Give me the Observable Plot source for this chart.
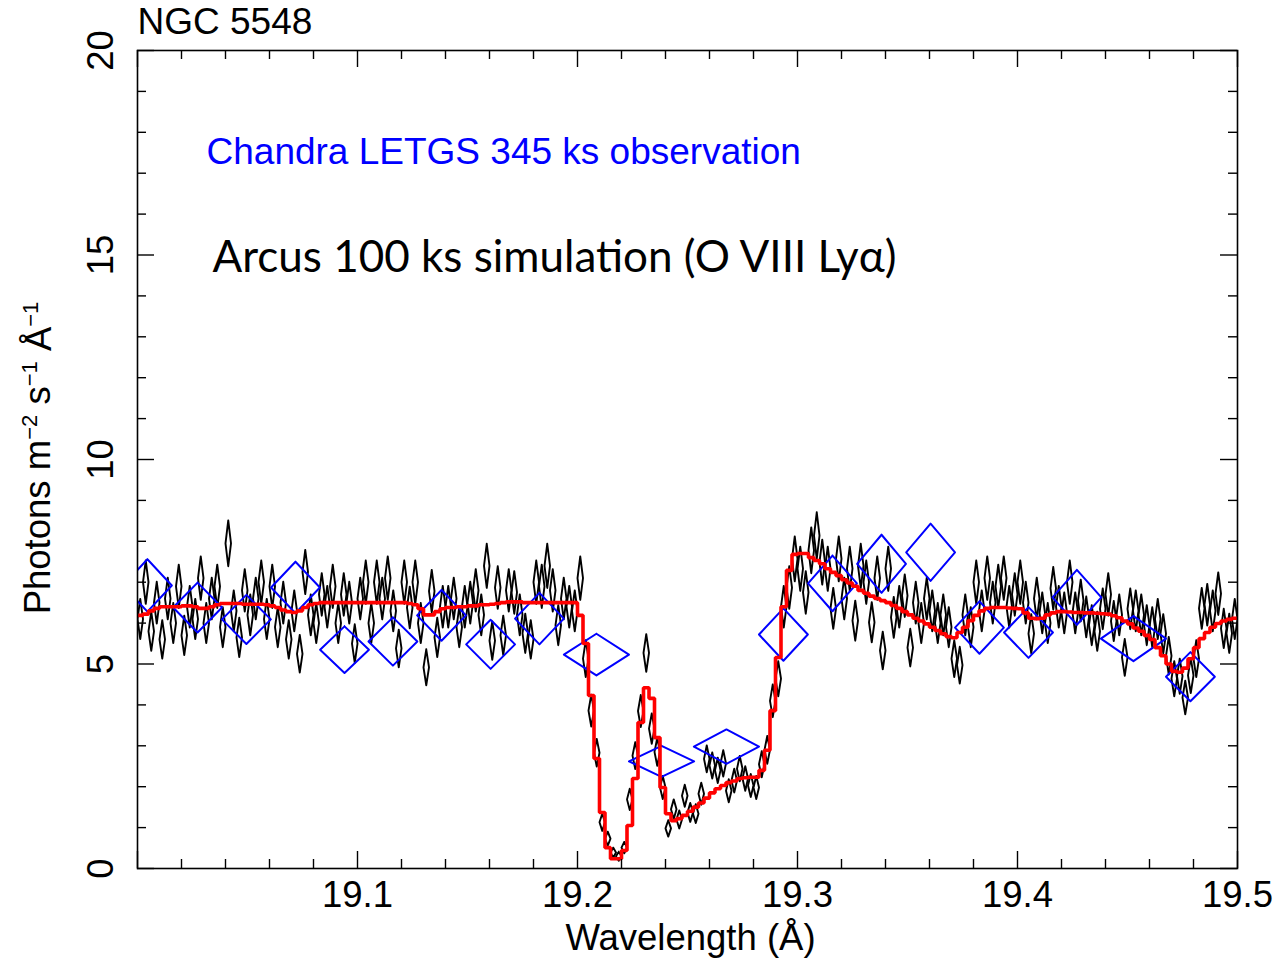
<!DOCTYPE html>
<html>
<head>
<meta charset="utf-8">
<script src="https://cdn.jsdelivr.net/npm/d3@7"></script>
<script src="https://cdn.jsdelivr.net/npm/@observablehq/plot@0.6"></script>
<style>
  body { margin: 0; background: #fff; }
  #chart { width: 1278px; height: 961px; }
</style>
</head>
<body>
<div id="chart"></div>
<script>
// Spectral grid of the simulated Arcus spectrum (bin start and width, Å)
const binStart = 19.0;
const binWidth = 0.0025;

// Arcus 100 ks simulated flux per bin (photons m^-2 s^-1 Å^-1)
const arcusFlux = [
  6.1, 7.0, 5.8, 6.5, 5.6, 6.6, 6.0, 6.9, 5.7, 6.4,
  6.1, 7.1, 6.0, 6.6, 6.9, 5.9, 7.95, 6.3, 5.65, 6.8,
  6.2, 6.6, 7.0, 6.1, 6.9, 5.9, 6.5, 5.6, 6.3, 5.25,
  7.25, 6.2, 6.0, 6.7, 6.4, 6.9, 6.0, 6.7, 6.5, 5.5,
  6.6, 7.0, 6.0, 7.0, 6.6, 7.1, 6.3, 5.38, 7.0, 6.38,
  7.0, 6.0, 4.92, 6.78, 5.65, 6.4, 6.4, 6.6, 5.9, 6.4,
  6.5, 6.8, 6.2, 7.4, 5.57, 6.87, 5.7, 6.8, 6.75, 6.2,
  5.75, 5.6, 7.0, 6.9, 7.4, 6.8, 5.95, 6.6, 6.4, 6.3,
  7.1, 5.13, 3.86, 2.83, 1.13, 0.73, 0.39, 0.3, 0.51, 1.69,
  2.76, 3.85, 5.27, 3.42, 2.85, 1.98, 0.98, 1.45, 1.2, 1.78,
  1.37, 1.34, 1.83, 2.68, 2.52, 2.4, 2.57, 1.9, 2.15, 2.44,
  2.2, 2.03, 1.98, 2.55, 2.9, 4.1, 4.64, 6.4, 6.87, 7.57,
  7.33, 6.75, 7.78, 8.14, 7.49, 7.33, 6.36, 7.57, 6.6, 7.33,
  6.06, 7.4, 7.0, 6.02, 7.1, 5.33, 7.33, 6.14, 6.4, 6.67,
  5.4, 6.5, 6.0, 6.6, 6.3, 6.0, 6.2, 5.9, 5.13, 4.97,
  6.2, 5.9, 7.0, 6.3, 7.1, 6.5, 6.9, 7.1, 6.4, 6.7,
  7.0, 6.5, 5.74, 6.6, 6.25, 6.0, 6.85, 6.4, 6.25, 7.0,
  6.25, 6.55, 6.15, 5.95, 5.8, 6.35, 6.7, 6.05, 6.2, 5.16,
  6.35, 6.3, 6.2, 5.95, 5.9, 6.1, 5.74, 5.2, 4.64, 4.7,
  4.18, 4.72, 5.13, 6.36, 6.45, 6.3, 6.72, 5.87, 5.75, 6.1
];

// 1-sigma uncertainty of each simulated bin
const arcusErr = [
  .49, .53, .48, .51, .47, .51, .49, .53, .48, .51,
  .49, .53, .49, .51, .53, .49, .56, .50, .48, .52,
  .50, .51, .53, .49, .53, .49, .51, .47, .50, .46,
  .54, .50, .49, .52, .51, .53, .49, .52, .51, .47,
  .51, .53, .49, .53, .51, .53, .50, .46, .53, .51,
  .53, .49, .44, .52, .48, .51, .51, .51, .49, .51,
  .51, .52, .50, .54, .47, .52, .48, .52, .52, .50,
  .48, .47, .53, .53, .54, .52, .49, .51, .51, .50,
  .53, .45, .39, .34, .21, .17, .12, .11, .14, .26,
  .33, .39, .46, .37, .34, .28, .20, .24, .22, .27,
  .23, .23, .27, .33, .32, .31, .32, .28, .29, .31,
  .30, .28, .28, .32, .34, .40, .43, .51, .52, .55,
  .54, .52, .56, .57, .55, .54, .50, .55, .51, .54,
  .49, .54, .53, .49, .53, .46, .54, .50, .51, .52,
  .46, .51, .49, .51, .50, .49, .50, .49, .45, .45,
  .50, .49, .53, .50, .53, .51, .53, .53, .51, .52,
  .53, .51, .48, .51, .50, .49, .52, .51, .50, .53,
  .50, .51, .50, .49, .48, .50, .52, .49, .50, .45,
  .50, .50, .50, .49, .49, .49, .48, .46, .43, .43,
  .41, .43, .45, .50, .51, .50, .52, .48, .48, .49
];

// Absorption model folded through the Arcus response, one value per bin
const modelFlux = [
  6.19, 6.22, 6.3, 6.36, 6.4, 6.4, 6.4, 6.4, 6.42, 6.42,
  6.4, 6.36, 6.36, 6.4, 6.45, 6.48, 6.48, 6.48, 6.48, 6.46,
  6.46, 6.46, 6.46, 6.45, 6.42, 6.38, 6.32, 6.28, 6.26, 6.3,
  6.38, 6.45, 6.48, 6.5, 6.5, 6.5, 6.5, 6.5, 6.5, 6.5,
  6.5, 6.5, 6.5, 6.5, 6.5, 6.5, 6.5, 6.5, 6.5, 6.48,
  6.45, 6.35, 6.2, 6.2, 6.28, 6.35, 6.38, 6.38, 6.4, 6.4,
  6.42, 6.42, 6.45, 6.45, 6.46, 6.48, 6.5, 6.52, 6.52, 6.52,
  6.5, 6.5, 6.5, 6.5, 6.5, 6.5, 6.5, 6.5, 6.5, 6.5,
  6.19, 5.5, 4.23, 2.69, 1.37, 0.51, 0.24, 0.24, 0.44, 1.05,
  2.2, 3.57, 4.42, 4.16, 3.2, 1.98, 1.34, 1.17, 1.22, 1.3,
  1.4, 1.5, 1.6, 1.72, 1.85, 1.95, 2.03, 2.1, 2.14, 2.2,
  2.22, 2.23, 2.23, 2.4, 2.89, 3.86, 5.16, 6.4, 7.29, 7.68,
  7.7, 7.7, 7.6, 7.53, 7.45, 7.33, 7.24, 7.16, 7.06, 6.98,
  6.9, 6.8, 6.73, 6.66, 6.6, 6.55, 6.5, 6.43, 6.36, 6.28,
  6.2, 6.12, 6.05, 5.98, 5.9, 5.82, 5.74, 5.67, 5.64, 5.77,
  5.9, 6.06, 6.19, 6.3, 6.36, 6.38, 6.38, 6.38, 6.37, 6.36,
  6.35, 6.25, 6.12, 6.11, 6.12, 6.2, 6.25, 6.28, 6.28, 6.27,
  6.26, 6.26, 6.25, 6.25, 6.24, 6.23, 6.22, 6.18, 6.13, 6.05,
  5.98, 5.88, 5.8, 5.7, 5.6, 5.4, 5.2, 5.0, 4.82, 4.8,
  4.9, 5.13, 5.4, 5.62, 5.77, 5.9, 5.99, 6.05, 6.09, 6.12
];

// Chandra LETGS 345 ks observation: bin centres, half widths, flux, 1-sigma errors
const letgsWave = [19.0045, 19.0273, 19.0495, 19.0718, 19.0941, 19.1161, 19.1382,
  19.1605, 19.1827, 19.2086, 19.2382, 19.2677, 19.2936, 19.3159, 19.3382, 19.3605,
  19.3827, 19.4050, 19.4270, 19.4527, 19.4786];
const letgsHalfWidth = [0.0111, 0.0111, 0.0111, 0.0111, 0.0111, 0.0111, 0.0111,
  0.0111, 0.0111, 0.0148, 0.0148, 0.0148, 0.0111, 0.0111, 0.0111, 0.0111,
  0.0111, 0.0111, 0.0111, 0.0148, 0.0111];
const letgsFlux = [6.92, 6.38, 6.09, 6.87, 5.35, 5.55, 6.19, 5.48, 6.11, 5.23,
  2.62, 2.98, 5.72, 6.97, 7.45, 7.73, 5.89, 5.77, 6.63, 5.62, 4.69];
const letgsErr = [0.64, 0.61, 0.60, 0.63, 0.57, 0.59, 0.62, 0.60, 0.63, 0.51,
  0.38, 0.42, 0.64, 0.68, 0.71, 0.70, 0.64, 0.62, 0.67, 0.55, 0.60];

// Axis ticks
const xMajor = [19.0, 19.1, 19.2, 19.3, 19.4, 19.5];
const xLabels = [19.1, 19.2, 19.3, 19.4, 19.5];
const xMinor = [19.02, 19.04, 19.06, 19.08, 19.12, 19.14, 19.16, 19.18, 19.22, 19.24,
  19.26, 19.28, 19.32, 19.34, 19.36, 19.38, 19.42, 19.44, 19.46, 19.48];
const yMajor = [0, 5, 10, 15, 20];
const yMinor = [1, 2, 3, 4, 6, 7, 8, 9, 11, 12, 13, 14, 16, 17, 18, 19];

// Each measurement is drawn as a diamond: x half-width by y error
function diamondPath(xs, ys, dxs, dys) {
  return xs.flatMap((x, i) => {
    const y = ys[i], dx = dxs[i], dy = dys[i];
    return [
      {id: i, x, y: y + dy},
      {id: i, x: x + dx, y},
      {id: i, x, y: y - dy},
      {id: i, x: x - dx, y},
      {id: i, x, y: y + dy}
    ];
  });
}

const arcusWave = arcusFlux.map((_, i) => binStart + (i + 0.5) * binWidth);
const arcusDiamonds = diamondPath(arcusWave, arcusFlux, arcusFlux.map(() => binWidth / 2), arcusErr);
const letgsDiamonds = diamondPath(letgsWave, letgsFlux, letgsHalfWidth, letgsErr);

// Histogram-style model: flat across each bin
const modelSteps = modelFlux.flatMap((v, i) => [
  {x: binStart + i * binWidth, y: v},
  {x: binStart + (i + 1) * binWidth, y: v}
]);

const W = 1278, H = 961;
const mL = 137, mR = 41, mT = 50, mB = 93;
const frameW = W - mL - mR, frameH = H - mT - mB;
const majorLen = 17, minorLen = 9;
const sans = "'Liberation Sans', Arial, Helvetica, sans-serif";
const fs = 36.5;

const chart = Plot.plot({
  width: W,
  height: H,
  marginLeft: mL,
  marginRight: mR,
  marginTop: mT,
  marginBottom: mB,
  style: {fontFamily: sans, background: "#fff", color: "#000"},
  x: {domain: [19.0, 19.5]},
  y: {domain: [0, 20], axis: null},
  marks: [
    // Arcus simulated data
    Plot.line(arcusDiamonds, {x: "x", y: "y", z: "id", stroke: "#000", strokeWidth: 1.9, clip: true}),
    // Chandra LETGS data
    Plot.line(letgsDiamonds, {x: "x", y: "y", z: "id", stroke: "#0000ff", strokeWidth: 2, clip: true}),
    // Model
    Plot.line(modelSteps, {x: "x", y: "y", stroke: "#ff0000", strokeWidth: 3.6,
      strokeLinejoin: "miter", strokeLinecap: "butt", clip: true}),

    Plot.frame({stroke: "#000", strokeWidth: 1.6}),
    // Inward ticks on all four sides
    Plot.ruleX(xMajor, {insetTop: frameH - majorLen, stroke: "#000", strokeWidth: 1.4}),
    Plot.ruleX(xMinor, {insetTop: frameH - minorLen, stroke: "#000", strokeWidth: 1.4}),
    Plot.ruleX(xMajor, {insetBottom: frameH - majorLen, stroke: "#000", strokeWidth: 1.4}),
    Plot.ruleX(xMinor, {insetBottom: frameH - minorLen, stroke: "#000", strokeWidth: 1.4}),
    Plot.ruleY(yMajor, {insetRight: frameW - majorLen, stroke: "#000", strokeWidth: 1.4}),
    Plot.ruleY(yMinor, {insetRight: frameW - minorLen, stroke: "#000", strokeWidth: 1.4}),
    Plot.ruleY(yMajor, {insetLeft: frameW - majorLen, stroke: "#000", strokeWidth: 1.4}),
    Plot.ruleY(yMinor, {insetLeft: frameW - minorLen, stroke: "#000", strokeWidth: 1.4}),

    Plot.axisX(xLabels, {anchor: "bottom", tickSize: 0, tickPadding: 13, fontSize: fs,
      tickFormat: (d) => d.toFixed(1), label: null}),
    Plot.text(yMajor, {y: (d) => d, text: (d) => String(d), frameAnchor: "left", dx: -36,
      rotate: -90, fontSize: fs, textAnchor: "middle", lineAnchor: "middle", fill: "#000"}),

    Plot.text(["NGC 5548"], {frameAnchor: "top-left", dy: -28, textAnchor: "start",
      lineAnchor: "middle", fontSize: 37, fill: "#000"}),
    Plot.text(["Wavelength (Å)"], {frameAnchor: "bottom", dy: 70, dx: 3, textAnchor: "middle",
      lineAnchor: "middle", fontSize: fs, fill: "#000"}),
    Plot.text(["Chandra LETGS 345 ks observation"], {frameAnchor: "top-left", dx: 69, dy: 102,
      textAnchor: "start", lineAnchor: "middle", fontSize: 37, fill: "#0000ff"}),
    Plot.text(["Arcus 100 ks simulation (O VIII Lyα)"], {frameAnchor: "top-left", dx: 75, dy: 207,
      textAnchor: "start", lineAnchor: "middle", fontSize: 44, fill: "#000",
      fontFamily: "Lato, 'Open Sans', sans-serif"})
  ]
});

// y-axis title with superscripted exponents
const svg = d3.select(chart);
const yTitle = svg.append("text")
  .attr("transform", `translate(37, 458) rotate(-90)`)
  .attr("text-anchor", "middle")
  .attr("dy", "0.35em")
  .attr("font-family", sans)
  .attr("font-size", fs)
  .attr("fill", "#000");
yTitle.append("tspan").text("Photons m");
yTitle.append("tspan").attr("font-size", 22).attr("dy", "-0.6em").text("−2");
yTitle.append("tspan").attr("dy", "0.38em").text(" s");
yTitle.append("tspan").attr("font-size", 22).attr("dy", "-0.6em").text("−1");
yTitle.append("tspan").attr("dy", "0.38em").text(" Å");
yTitle.append("tspan").attr("font-size", 22).attr("dy", "-0.6em").text("−1");

document.getElementById("chart").appendChild(chart);
</script>
</body>
</html>
